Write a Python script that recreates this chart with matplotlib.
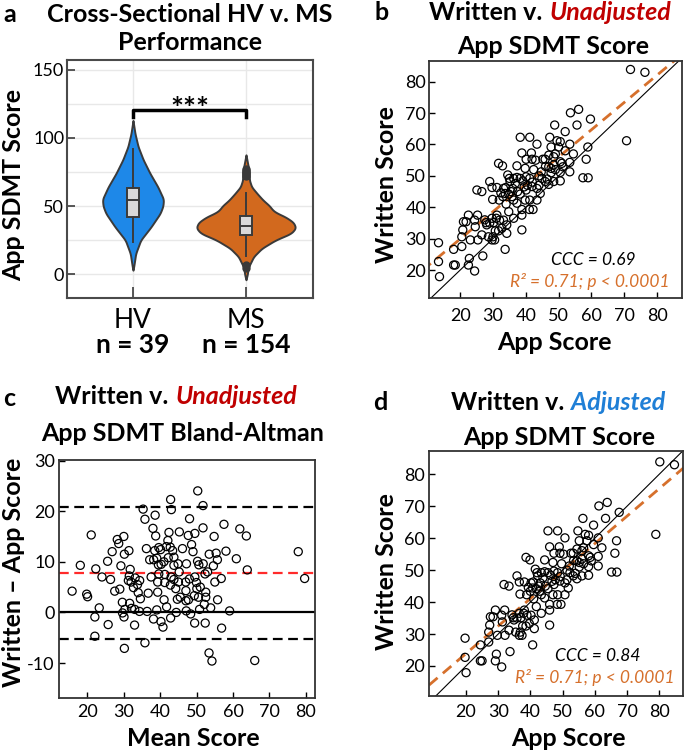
import numpy as np
import matplotlib
matplotlib.use('Agg')
import matplotlib.pyplot as plt

plt.rcParams['font.family'] = ['Lato', 'DejaVu Sans']
plt.rcParams['axes.unicode_minus'] = False
plt.rcParams['lines.scale_dashes'] = False

# ---------------- data ----------------
# panel a: violin density profiles (score, half-width) and box statistics
GROUPS = ['HV', 'MS']
GROUP_N = [39, 154]
HV_DENS_Y = [3, 5.4, 15.2, 25, 34.8, 44.6, 50, 55, 64, 74, 84, 93.6, 103, 112.7]
HV_DENS_W = [0, 0.006, 0.024, 0.068, 0.16, 0.24, 0.265, 0.27, 0.22, 0.15, 0.09, 0.045, 0.018, 0]
MS_DENS_Y = [-4, 0, 5, 13, 19, 25, 30, 34, 38, 42, 45, 47, 50, 54.4, 59, 64, 69, 75, 81, 87.5]
MS_DENS_W = [0, 0.012, 0.02, 0.068, 0.14, 0.26, 0.40, 0.44, 0.42, 0.35, 0.27, 0.236, 0.21, 0.15, 0.10, 0.05, 0.03, 0.03, 0.015, 0]
HV_BOX = dict(med=54.2, q1=42.2, q3=63.5, whislo=23.3, whishi=91.7, fliers=[])
MS_BOX = dict(med=35.3, q1=28.4, q3=42.6, whislo=13.2, whishi=59.3,
              fliers=[72, 74, 75.5, 77, 6.6, 4.7])
SIG_LABEL = '***'

# panel b: unadjusted app score vs written score
APP = [71.9, 76.3, 53.6, 56.1, 55.6, 59.7, 48.8, 52.0, 70.7, 38.3, 41.2, 47.3, 43.4, 38.8, 41.7, 58.9,
       49.5, 50.5, 47.7, 53.4, 50.0,
       40.1, 41.9, 45.2, 45.9, 48.5, 47.0, 50.5, 51.0, 53.4, 48.5,
       31.7, 32.9, 37.3, 39.8, 42.4, 47.0, 47.7, 51.3, 53.4, 50.5, 47.7, 44.7,
       34.5, 35.0, 36.3, 37.3, 38.3, 40.1, 41.2, 35.2, 36.8, 39.1, 44.9, 47.0, 50.5, 57.4, 59.0, 58.4,
       45.9, 48.5,
       25.1, 26.6, 29.0, 29.7, 31.2, 33.2, 33.9, 32.4, 33.7, 34.8, 35.8, 33.0, 31.9, 29.9, 38.3, 40.1,
       41.9, 43.4, 44.4, 41.2, 43.4, 36.3, 37.3, 39.8,
       41.1, 42.2, 38.8, 34.8, 36.3, 38.8, 31.2, 22.5, 25.3,
       21.0, 21.8, 24.4, 27.9, 29.7, 31.0, 32.0, 33.2, 30.2, 34.2, 28.1, 24.6,
       20.8, 20.5, 23.1, 25.4, 26.6, 28.6, 29.7, 30.5, 30.7, 31.7, 32.7, 34.2, 38.8, 30.0,
       13.4, 18.0, 20.5, 26.9, 33.7,
       13.4, 18.0, 18.5, 22.8, 22.5, 24.4, 13.7,
       36.0, 37.5, 39.5, 42.0, 44.0, 46.0, 49.0, 43.0, 52.0, 54.5, 49.0, 40.5, 35.5, 34.0, 46.5, 27.5,
       29.0, 44.0]
WRITTEN = [83.9, 83.0, 70.1, 71.2, 66.2, 68.1, 66.2, 64.1, 61.2, 62.3, 62.3, 62.3, 60.1, 57.3, 57.3, 59.2,
           61.2, 60.9, 59.2, 60.1, 59.2,
           55.3, 55.3, 55.3, 55.3, 56.1, 56.6, 54.5, 54.0, 54.3, 53.5,
           54.0, 53.2, 53.2, 52.4, 52.0, 52.9, 52.4, 52.9, 51.3, 51.1, 51.0, 51.3,
           50.3, 49.2, 49.2, 49.5, 49.2, 49.7, 49.2, 48.2, 47.6, 48.4, 49.2, 47.3, 48.4, 49.4, 49.4, 55.3,
           48.2, 48.2,
           45.5, 45.0, 48.2, 46.3, 46.3, 46.0, 46.3, 44.6, 44.4, 44.2, 43.4, 43.4, 42.3, 42.5, 44.2, 45.5,
           46.6, 46.0, 44.4, 42.3, 42.3, 42.3, 41.3, 42.3,
           39.3, 39.3, 39.3, 38.6, 36.5, 37.5, 37.5, 37.5, 37.5,
           35.4, 35.4, 35.9, 35.1, 36.5, 36.5, 35.9, 35.9, 35.1, 34.4, 34.4, 33.8,
           32.8, 30.6, 29.6, 29.6, 31.2, 30.6, 29.6, 29.6, 32.5, 32.5, 33.3, 31.7, 32.8, 30.6,
           28.7, 26.6, 27.5, 24.5, 26.6,
           22.7, 21.6, 21.6, 23.7, 21.6, 19.7, 17.9,
           46.0, 45.0, 46.5, 48.0, 47.0, 53.0, 57.0, 55.0, 58.0, 57.0, 52.0, 47.0, 45.0, 41.0, 49.0, 36.0,
           35.0, 50.0]

# regression lines (slope, intercept)
FIT_B = (0.87, 12.5)
FIT_D = (0.86, 6.7)

# panel c: Bland-Altman reference lines
BA_BIAS = 7.76
BA_UPPER = 20.8
BA_LOWER = -5.3

ADJ_SLOPE = 1.034
ADJ_INTERCEPT = 5.85

CCC_B = 'CCC = 0.69'
CCC_D = 'CCC = 0.84'
R2_TEXT = 'R² = 0.71; p < 0.0001'

# ---------------- figure ----------------
W, H = 685, 753
fig = plt.figure(figsize=(W / 100, H / 100), dpi=100)


def rect(l, r, t, b):
    return [l / W, 1 - b / H, (r - l) / W, (b - t) / H]


def fx(x):
    return x / W


def fy(y):
    return 1 - y / H


DARK = '#3a3a3a'
ORANGE = '#D6702C'
RED = '#C00000'
BLUE = '#1F7FD6'
TITLE_FS = 18
TICK_FS = 13
ANN_FS = 12.5

# ---- panel a ----
axa = fig.add_axes(rect(67, 313, 60, 298))
colors = ['#1E88E8', '#D2691E']
profiles = [(HV_DENS_Y, HV_DENS_W), (MS_DENS_Y, MS_DENS_W)]
for i, (py, pw) in enumerate(profiles):
    yy = np.linspace(min(py), max(py), 400)
    ww = np.interp(yy, py, pw)
    k = np.ones(15) / 15
    ww = np.convolve(np.pad(ww, 7, mode='edge'), k, mode='valid')
    ww[0] = 0
    ww[-1] = 0
    axa.fill_betweenx(yy, i - ww, i + ww, facecolor=colors[i], edgecolor=DARK, lw=1.4, zorder=2)
stats = []
for lab, b in zip(GROUPS, [HV_BOX, MS_BOX]):
    d = dict(b)
    d['label'] = lab
    stats.append(d)
axa.bxp(stats, positions=[0, 1], widths=0.1, showcaps=False, patch_artist=True,
        boxprops=dict(facecolor='#d9d9d9', edgecolor=DARK, lw=1.4),
        whiskerprops=dict(color=DARK, lw=1.4),
        medianprops=dict(color=DARK, lw=1.4),
        flierprops=dict(marker='o', markerfacecolor=DARK, markeredgecolor=DARK, markersize=5),
        zorder=3)
axa.set_xlim(-0.584, 1.593)
axa.set_ylim(-17.4, 157)
axa.set_yticks([0, 50, 100, 150])
axa.set_yticks([25, 75, 125], minor=True)
axa.set_xticks([0, 1])
axa.set_xticklabels(GROUPS)
axa.grid(True, which='both', color='#e8e8e8', lw=1, zorder=0)
axa.set_axisbelow(True)
axa.tick_params(axis='y', which='major', direction='in', length=6, width=1.2, color=DARK,
                labelsize=TICK_FS, pad=2)
axa.tick_params(axis='y', which='minor', length=0)
axa.tick_params(axis='x', direction='in', length=8, width=1.2, color=DARK, labelsize=19, pad=7)
for s in axa.spines.values():
    s.set_color('#4a4a4a')
    s.set_linewidth(1.5)
axa.plot([0, 0, 1, 1], [115.4, 120, 120, 115.4], color='black', lw=2.5, zorder=4)
axa.text(0.5, 114.0, SIG_LABEL, ha='center', va='baseline', fontsize=22, fontweight='bold')
for i, n in enumerate(GROUP_N):
    fig.text(fx([133, 246][i]), fy(345), f'n = {n}', ha='center', va='center',
             fontsize=19, fontweight='bold')
fig.text(fx(14), fy(185), 'App SDMT Score', rotation=90, ha='center', va='center',
         fontsize=TITLE_FS, fontweight='bold')
fig.text(fx(190), fy(15), 'Cross-Sectional HV v. MS', ha='center', va='center',
         fontsize=TITLE_FS, fontweight='bold')
fig.text(fx(190), fy(43), 'Performance', ha='center', va='center',
         fontsize=TITLE_FS, fontweight='bold')


def style_scatter_axes(ax, xpad, ypad):
    ax.tick_params(direction='in', length=4, width=1, color='black', labelsize=TICK_FS)
    ax.tick_params(axis='x', pad=xpad)
    ax.tick_params(axis='y', pad=ypad)
    for s in ax.spines.values():
        s.set_color('#333333')
        s.set_linewidth(1.3)


app = np.array(APP)
wr = np.array(WRITTEN)
lim = np.array([0, 100])

# ---- panel b ----
axb = fig.add_axes(rect(429, 682, 61, 298))
axb.scatter(app, wr, s=34, facecolors='none', edgecolors='black', linewidths=0.9, zorder=3)
axb.plot(lim, lim, color='black', lw=0.8, zorder=2)
ln, = axb.plot(lim, FIT_B[0] * lim + FIT_B[1], color=ORANGE, lw=2.0, zorder=2)
ln.set_dashes((8, 5))
axb.set_xlim(10.5, 87.6)
axb.set_ylim(11.1, 86.6)
axb.set_xticks(range(20, 90, 10))
axb.set_yticks(range(20, 90, 10))
style_scatter_axes(axb, 7.5, 2)
axb.text(0.648, 0.16, CCC_B, transform=axb.transAxes, ha='center', va='center',
         fontsize=ANN_FS, style='italic')
axb.text(0.636, 0.068, R2_TEXT, transform=axb.transAxes, ha='center', va='center',
         fontsize=ANN_FS, style='italic', color=ORANGE)
fig.text(fx(387), fy(185), 'Written Score', rotation=90, ha='center', va='center',
         fontsize=TITLE_FS, fontweight='bold')
fig.text(fx(554), fy(342), 'App Score', ha='center', va='center',
         fontsize=TITLE_FS, fontweight='bold')

# ---- panel c ----
axc = fig.add_axes(rect(59, 315, 460, 698))
mean_s = (app + wr) / 2
diff_s = wr - app
axc.scatter(mean_s, diff_s, s=34, facecolors='none', edgecolors='black', linewidths=0.9, zorder=3)
axc.axhline(0, color='black', lw=1.6, zorder=2)
for yv, col in [(BA_UPPER, 'black'), (BA_LOWER, 'black'), (BA_BIAS, '#FF2A2A')]:
    l = axc.axhline(yv, color=col, lw=1.6, zorder=2)
    l.set_dashes((7, 4))
axc.set_xlim(12.2, 82.5)
axc.set_ylim(-16.9, 30.1)
axc.set_xticks(range(20, 90, 10))
axc.set_yticks([-10, 0, 10, 20, 30])
style_scatter_axes(axc, 4.3, 3)
fig.text(fx(14), fy(572), 'Written – App Score', rotation=90, ha='center', va='center',
         fontsize=TITLE_FS, fontweight='bold')
fig.text(fx(193), fy(738), 'Mean Score', ha='center', va='center',
         fontsize=TITLE_FS, fontweight='bold')

# ---- panel d ----
axd = fig.add_axes(rect(429, 683, 451, 696))
adj = ADJ_SLOPE * app + ADJ_INTERCEPT
axd.scatter(adj, wr, s=34, facecolors='none', edgecolors='black', linewidths=0.9, zorder=3)
axd.plot(lim, lim, color='black', lw=0.8, zorder=2)
ln2, = axd.plot(lim, FIT_D[0] * lim + FIT_D[1], color=ORANGE, lw=2.0, zorder=2)
ln2.set_dashes((8, 5))
axd.set_xlim(8.5, 87.4)
axd.set_ylim(10.6, 87.3)
axd.set_xticks(range(20, 90, 10))
axd.set_yticks(range(20, 90, 10))
style_scatter_axes(axd, 5.8, 3)
axd.text(0.663, 0.163, CCC_D, transform=axd.transAxes, ha='center', va='center',
         fontsize=ANN_FS, style='italic')
axd.text(0.654, 0.075, R2_TEXT, transform=axd.transAxes, ha='center', va='center',
         fontsize=ANN_FS, style='italic', color=ORANGE)
fig.text(fx(386), fy(572), 'Written Score', rotation=90, ha='center', va='center',
         fontsize=TITLE_FS, fontweight='bold')
fig.text(fx(568), fy(738), 'App Score', ha='center', va='center',
         fontsize=TITLE_FS, fontweight='bold')

# ---- titles with mixed styles ----
fig.canvas.draw()
renderer = fig.canvas.get_renderer()


def mixed_line(xc, y, parts):
    texts = []
    for s, kw in parts:
        t = fig.text(0, fy(y), s, ha='left', va='center', fontsize=TITLE_FS, **kw)
        texts.append(t)
    gap = 0.26 * TITLE_FS * 100 / 72
    widths = [t.get_window_extent(renderer).width for t in texts]
    total = sum(widths) + gap * (len(texts) - 1)
    x = xc - total / 2
    for t, w in zip(texts, widths):
        t.set_x(fx(x))
        x += w + gap


mixed_line(550, 13, [('Written v.', dict(fontweight='bold')),
                     ('Unadjusted', dict(fontweight='bold', style='italic', color=RED))])
fig.text(fx(553), fy(47), 'App SDMT Score', ha='center', va='center',
         fontsize=TITLE_FS, fontweight='bold')
mixed_line(176, 397, [('Written v.', dict(fontweight='bold')),
                      ('Unadjusted', dict(fontweight='bold', style='italic', color=RED))])
fig.text(fx(183), fy(433), 'App SDMT Bland-Altman', ha='center', va='center',
         fontsize=TITLE_FS, fontweight='bold')
mixed_line(558, 403, [('Written v.', dict(fontweight='bold')),
                      ('Adjusted', dict(fontweight='bold', style='italic', color=BLUE))])
fig.text(fx(559), fy(437), 'App SDMT Score', ha='center', va='center',
         fontsize=TITLE_FS, fontweight='bold')

for lab, x, y in [('a', 10, 15), ('b', 382, 12), ('c', 9, 398), ('d', 380, 403)]:
    fig.text(fx(x), fy(y), lab, ha='center', va='center', fontsize=TITLE_FS, fontweight='bold')

fig.savefig('out.png', dpi=100)
